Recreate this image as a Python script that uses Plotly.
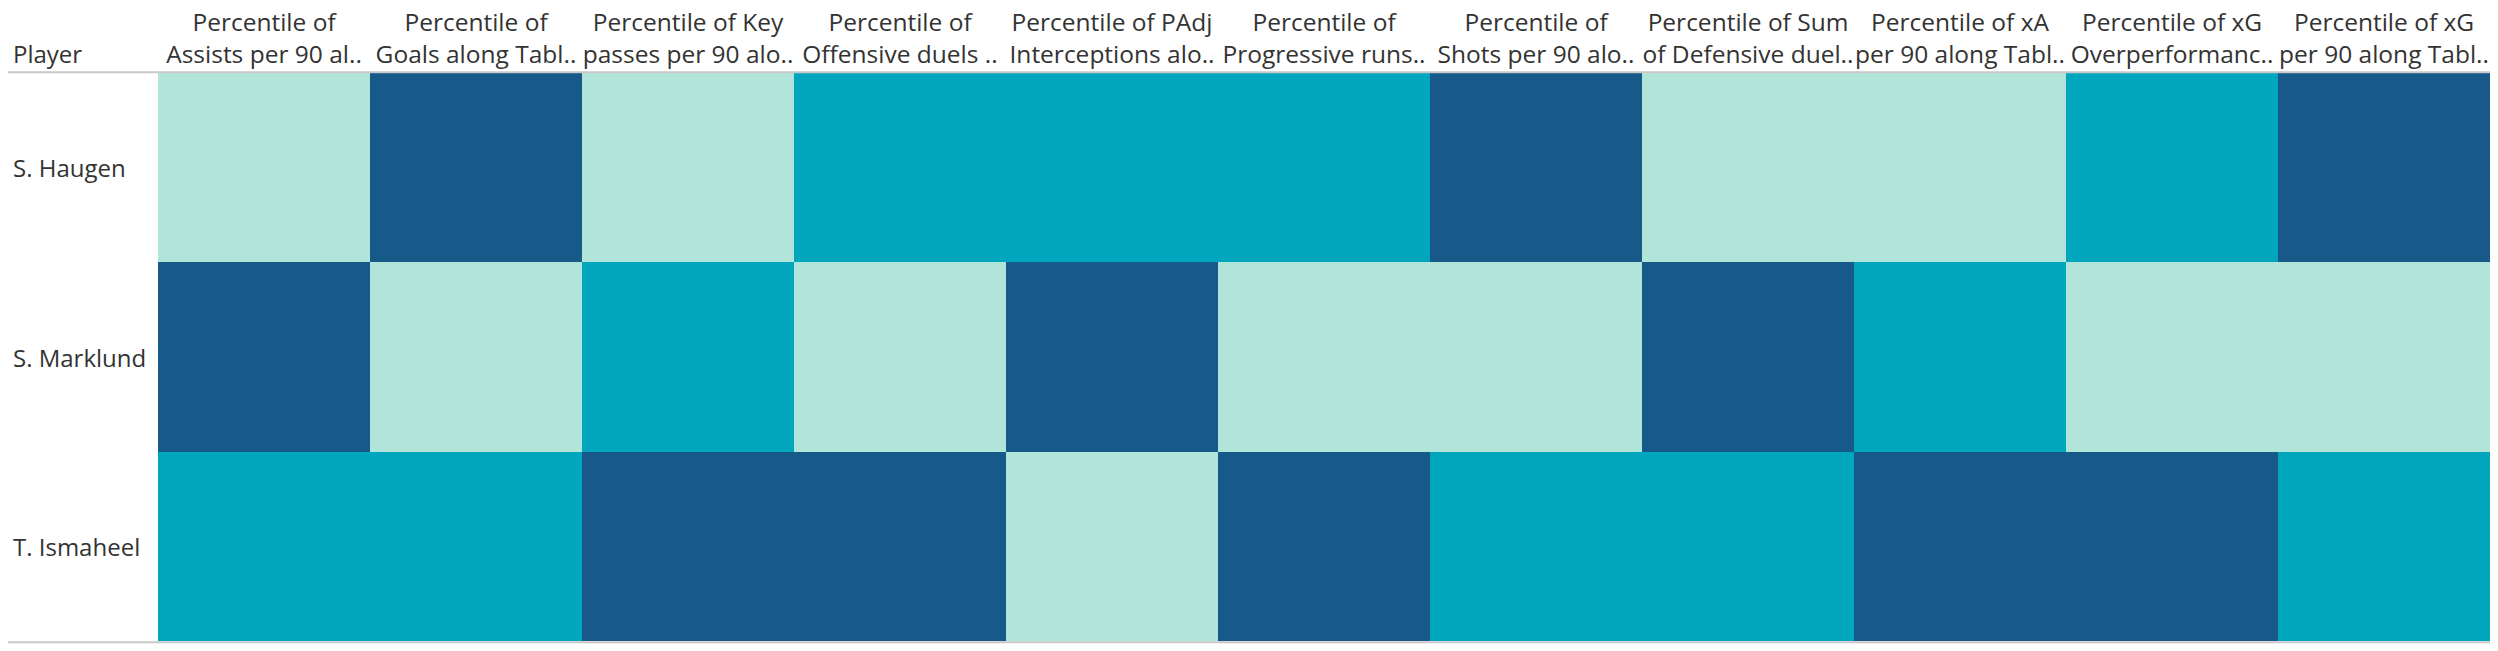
import plotly.graph_objects as go

players = ["S. Haugen", "S. Marklund", "T. Ismaheel"]
metrics = [
    "Percentile of<br>Assists per 90 al..",
    "Percentile of<br>Goals along Tabl..",
    "Percentile of Key<br>passes per 90 alo..",
    "Percentile of<br>Offensive duels ..",
    "Percentile of PAdj<br>Interceptions alo..",
    "Percentile of<br>Progressive runs..",
    "Percentile of<br>Shots per 90 alo..",
    "Percentile of Sum<br>of Defensive duel..",
    "Percentile of xA<br>per 90 along Tabl..",
    "Percentile of xG<br>Overperformanc..",
    "Percentile of xG<br>per 90 along Tabl..",
]
haugen = [0.0, 1.0, 0.0, 0.5, 0.5, 0.5, 1.0, 0.0, 0.0, 0.5, 1.0]
marklund = [1.0, 0.0, 0.5, 0.0, 1.0, 0.0, 0.0, 1.0, 0.5, 0.0, 0.0]
ismaheel = [0.5, 0.5, 1.0, 1.0, 0.0, 1.0, 0.5, 0.5, 1.0, 1.0, 0.5]

LIGHT, MID, DARK = "#b2e5d9", "#00a6bd", "#175a89"
TXT = "#333333"
FONT = "Open Sans"

# the page body adds an 8px offset on the left and top
W, H = 2490, 643
ML, MR, MT, MB = 150, 8, 65, 10
PW = W - ML - MR

fig = go.Figure(go.Heatmap(
    z=[haugen, marklund, ismaheel],
    x=metrics,
    y=players,
    zmin=0, zmax=1,
    colorscale=[[0, LIGHT], [0.333, LIGHT], [0.333, MID], [0.667, MID], [0.667, DARK], [1, DARK]],
    showscale=False,
    hoverinfo="skip",
))

annotations = [
    dict(text=p, x=-147 / PW, xref="paper", xanchor="left", y=p, yref="y",
         yanchor="middle", showarrow=False, font=dict(family=FONT, size=24, color=TXT))
    for p in players
]
annotations.append(dict(text="Player", x=-147 / PW, xref="paper", xanchor="left",
                        y=1, yref="paper", yanchor="bottom", yshift=1, showarrow=False,
                        font=dict(family=FONT, size=24, color=TXT)))

fig.update_layout(
    width=W, height=H,
    margin=dict(l=ML, r=MR, t=MT, b=MB, autoexpand=False),
    paper_bgcolor="white", plot_bgcolor="white",
    xaxis=dict(side="top", showgrid=False, zeroline=False, ticks="", ticklen=0,
               tickangle=0,
               tickfont=dict(family=FONT, size=24.5, color=TXT), ticklabelstandoff=4,
               automargin=False, fixedrange=True),
    yaxis=dict(autorange="reversed", showgrid=False, zeroline=False, showticklabels=False,
               ticks="", automargin=False, fixedrange=True),
    annotations=annotations,
    shapes=[
        dict(type="line", xref="paper", yref="paper", x0=-ML / PW, x1=1, y0=1.0015, y1=1.0015,
             line=dict(color="#c8c8c8", width=2)),
        dict(type="line", xref="paper", yref="paper", x0=-ML / PW, x1=1, y0=-0.002, y1=-0.002,
             line=dict(color="#c8c8c8", width=2)),
    ],
)

fig.write_html("out.html", config={"displayModeBar": False})
